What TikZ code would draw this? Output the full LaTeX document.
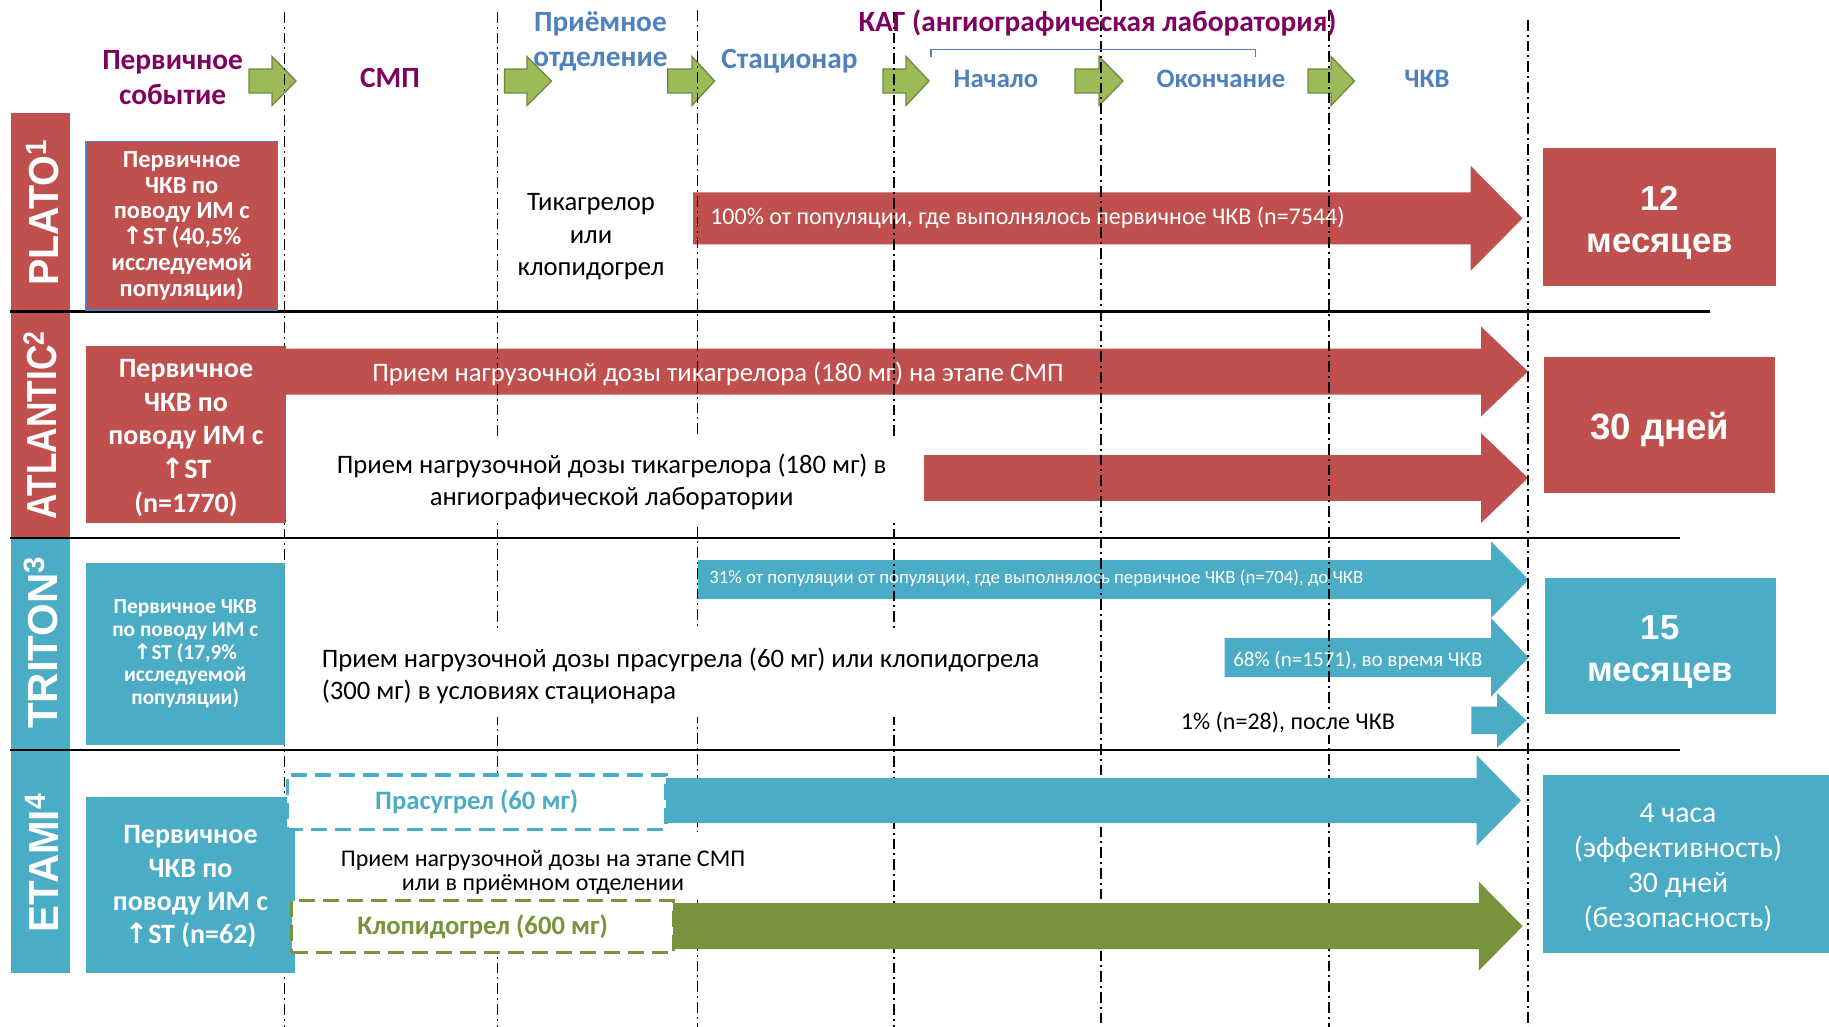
\documentclass[tikz,border=0pt]{standalone}
\usepackage{fontspec}
\setmainfont{Carlito}
\newfontfamily\arialf{Liberation Sans}
\newfontfamily\dvs{DejaVu Sans}
\definecolor{cred}{HTML}{C0504D}
\definecolor{cblue}{HTML}{4BACC6}
\definecolor{cgreen}{HTML}{9BBB59}
\definecolor{cgreenD}{HTML}{71893F}
\definecolor{cdgreen}{HTML}{77933C}
\definecolor{ctxtblue}{HTML}{4F81BD}
\definecolor{cpurple}{HTML}{800060}
\newcommand\uparr{{\dvs ↑}}
\newcommand\myArrow[7]{\path[#1] (#2,{#5-#6}) -- (#3,{#5-#6}) -- (#3,{#5-#7}) -- (#4,#5) -- (#3,{#5+#7}) -- (#3,{#5+#6}) -- (#2,{#5+#6}) -- cycle;}
\tikzset{
  vline/.style={line width=1.1pt, dash pattern=on 8pt off 3pt on 1.5pt off 3pt},
  hline/.style={line width=2.2pt},
  hdr/.style={font=\bfseries\fontsize{20}{26.25}\selectfont, align=center, inner sep=0pt},
  hdrL/.style={hdr, font=\bfseries\fontsize{22}{26.25}\selectfont},
  hdrP/.style={hdrL, text=cpurple},
  hdrB/.style={hdr, text=ctxtblue},
  hdrBL/.style={hdrL, text=ctxtblue},
  garr/.style={fill=cgreen, draw=cgreenD, line width=1pt},
  redarr/.style={fill=cred},
  bluearr/.style={fill=cblue},
  grnarr/.style={fill=cdgreen},
  lab/.style={text=white, inner sep=0pt, font=\arialf\bfseries\fontsize{31.5}{36}\selectfont},
  lbox/.style={inner sep=0pt, align=center, text=white},
  rbox/.style={inner sep=0pt, align=center, text=white, font=\arialf\bfseries\fontsize{26}{32}\selectfont},
  body/.style={inner sep=0pt, align=center, text=black, font=\fontsize{20}{24.4}\selectfont},
  atxt/.style={inner sep=0pt, text=white, anchor=west},
  dbox/.style={line width=2.5pt, dash pattern=on 12pt off 6pt, fill=white, inner sep=0pt, font=\bfseries\fontsize{20}{24}\selectfont},
}
\begin{document}
\begin{tikzpicture}[x=0.75pt,y=-0.75pt]
\useasboundingbox (0,0) rectangle (1829,1027);
\fill[white] (0,0) rectangle (1829,1027);

% left label bars
\fill[cred] (10.5,113) rectangle (70.4,311.7);
\fill[cred] (10.5,311.7) rectangle (70.4,538);
\fill[cblue] (10.5,538) rectangle (70.4,750);
\fill[cblue] (10.5,750) rectangle (70.4,972.7);
\node[lab, rotate=90, anchor=base] (lplato) at (58.5,212.5) {\scalebox{0.94}[1]{PLATO\textsuperscript{1}}};
\node[lab, rotate=90, anchor=base] (latl) at (56,425) {\scalebox{0.84}[1]{ATLANTIC\textsuperscript{2}}};
\node[lab, rotate=90, anchor=base] (ltri) at (57,642.5) {\scalebox{1.0}[1]{TRITON\textsuperscript{3}}};
\node[lab, rotate=90, anchor=base] (leta) at (58,863) {\scalebox{0.96}[1]{ETAMI\textsuperscript{4}}};

% header green arrows
\myArrow{garr}{249}{272}{296}{81}{12}{24.5}
\myArrow{garr}{504.6}{527}{551.5}{81}{12}{24.5}
\myArrow{garr}{667.7}{692}{714.6}{81}{12}{24.5}
\myArrow{garr}{883}{906}{929}{81}{12}{24.5}
\myArrow{garr}{1075}{1099}{1123}{81}{12}{24.5}
\myArrow{garr}{1308}{1331}{1354.5}{81}{12}{24.5}

% arrows under the dashed lines
\myArrow{redarr}{693}{1470.6}{1522.5}{218.3}{26}{52.5}
\myArrow{redarr}{286}{1481}{1528}{371.5}{23}{45}
\myArrow{redarr}{924}{1481}{1528}{478}{22.8}{45}
\myArrow{bluearr}{698}{1491}{1528.6}{579.7}{19.5}{38.3}
\myArrow{bluearr}{1224.5}{1491}{1528.6}{657.5}{19.5}{39.3}
\myArrow{bluearr}{1471.4}{1497}{1526.4}{720.3}{13.7}{27.5}

% vertical dashed lines
\foreach \xx/\yy in {284.6/12, 497.6/12, 697.6/10, 894/12, 1101/0, 1329/10, 1528/20}
  \draw[vline] (\xx,\yy) -- (\xx,1027);

% masks behind texts
\fill[white] (286,438) rectangle (924,523);
\fill[white] (286,630) rectangle (1060,717);
\fill[white] (295,832) rectangle (800,900);

% horizontal separators
\draw[hline] (10,311.7) -- (1710,311.7);
\draw[hline] (10,538) -- (1680,538);
\draw[hline] (10,750) -- (1680,750);

% header texts
\node[hdrP] (hpe) at (172.6,78) {Первичное\\событие};
\node[hdrP] (hsmp) at (390,78) {СМП};
\node[hdrBL] (hpo) at (600.5,41.5) {Приёмное\\отделение};
\node[hdrBL] (hst) at (789.5,61) {Стационар};
\node[hdrP] (hkag) at (1097.5,22.5) {КАГ (ангиографическая лаборатория)};
\draw[ctxtblue, line width=1.1pt] (931,56.7) -- (931,49.3) -- (1255.5,49.3) -- (1255.5,56.7);
\node[hdrB] (hnach) at (996,79) {Начало};
\node[hdrB] (hokon) at (1221,79) {Окончание};
\node[hdrB] (hchkv) at (1427,79) {ЧКВ};

% PLATO row
\node[lbox, fill=cred, draw=ctxtblue, line width=1pt, minimum width=143.6pt, minimum height=126.2pt, font=\bfseries\fontsize{18.4}{19.4}\selectfont] (plbox) at (181.75,225.85) {Первичное\\ЧКВ по\\поводу ИМ с\\\uparr ST (40,5\%\\исследуемой\\популяции)};
\node[body] (pltik) at (591,237) {Тикагрелор\\или\\клопидогрел};
\node[atxt, font=\fontsize{18}{20}\selectfont] (plarr) at (710,218) {100\% от популяции, где выполнялось первичное ЧКВ (n=7544)};
\node[rbox, fill=cred, minimum width=175.1pt, minimum height=103.5pt] (plres) at (1659.75,217) {};
\node[rbox] (plrestxt) at (1659.75,223) {12\\месяцев};

% ATLANTIC row
\node[lbox, fill=cred, minimum width=150pt, minimum height=132.75pt] (atbox) at (186,434.5) {};
\node[lbox, font=\bfseries\fontsize{21}{25.2}\selectfont] (atboxtxt) at (186,438) {Первичное\\ЧКВ по\\поводу ИМ с\\\uparr ST\\(n=1770)};
\node[atxt, anchor=center, font=\fontsize{20}{22}\selectfont] (atarr) at (718,374) {Прием нагрузочной дозы тикагрелора (180 мг) на этапе СМП};
\node[body, font=\fontsize{20}{24}\selectfont] (attxt) at (611.6,482) {Прием нагрузочной дозы тикагрелора (180 мг) в\\ангиографической лаборатории};
\node[rbox, fill=cred, minimum width=173.6pt, minimum height=102pt] (atres) at (1659.75,425) {};
\node[rbox, font=\arialf\bfseries\fontsize{27.5}{32}\selectfont] (atrestxt) at (1659.75,430) {30 дней};

% TRITON row
\node[lbox, fill=cblue, minimum width=149pt, minimum height=136.5pt, font=\bfseries\fontsize{16}{17}\selectfont] (trbox) at (185.3,654) {Первичное ЧКВ\\по поводу ИМ с\\\uparr ST (17,9\%\\исследуемой\\популяции)};
\node[atxt, font=\fontsize{14.1}{16}\selectfont] (trarr1) at (709,578) {31\% от популяции от популяции, где выполнялось первичное ЧКВ (n=704), до ЧКВ};
\node[atxt, font=\fontsize{15.8}{17}\selectfont] (trarr2) at (1233,660.7) {68\% (n=1571), во время ЧКВ};
\node[body, anchor=west, align=left, font=\fontsize{20}{24}\selectfont] (trtxt) at (321.5,676) {Прием нагрузочной дозы прасугрела (60 мг) или клопидогрела\\(300 мг) в условиях стационара};
\node[body, anchor=west, fill=white, inner sep=2pt, font=\fontsize{18}{20}\selectfont] (trarr3) at (1178,722) {1\% (n=28), после ЧКВ};
\node[rbox, fill=cblue, minimum width=173.25pt, minimum height=102pt] (trres) at (1660,646) {};
\node[rbox] (trrestxt) at (1660,652) {15\\месяцев};

% ETAMI row
\myArrow{bluearr}{663}{1476.5}{1521}{800.5}{22.5}{45.5}
\myArrow{grnarr}{672}{1478.8}{1522.7}{926.2}{23}{44.5}
\node[lbox, fill=cblue, minimum width=156.75pt, minimum height=132pt] (etbox) at (190.5,884.7) {};
\node[lbox, font=\bfseries\fontsize{21}{25}\selectfont] (etboxtxt) at (190.5,887) {Первичное\\ЧКВ по\\поводу ИМ с\\\uparr ST (n=62)};
\node[dbox, draw=cblue, text=cblue, minimum width=284pt, minimum height=40.7pt] (etpras) at (476.75,802.15) {Прасугрел (60 мг)};
\node[dbox, draw=cdgreen, text=cdgreen, minimum width=286.4pt, minimum height=39pt] (etclop) at (482.55,926.7) {Клопидогрел (600 мг)};
\node[body, font=\fontsize{18}{18}\selectfont] (ettxt) at (543,872) {Прием нагрузочной дозы на этапе СМП\\или в приёмном отделении};
\node[fill=cblue, inner sep=0pt, minimum width=214.5pt, minimum height=133.5pt] (etres) at (1686,864) {};
\node[lbox, font=\fontsize{22.3}{26.25}\selectfont] (etrestxt) at (1678,868) {4 часа\\(эффективность)\\30 дней\\(безопасность)};
\end{tikzpicture}
\end{document}
